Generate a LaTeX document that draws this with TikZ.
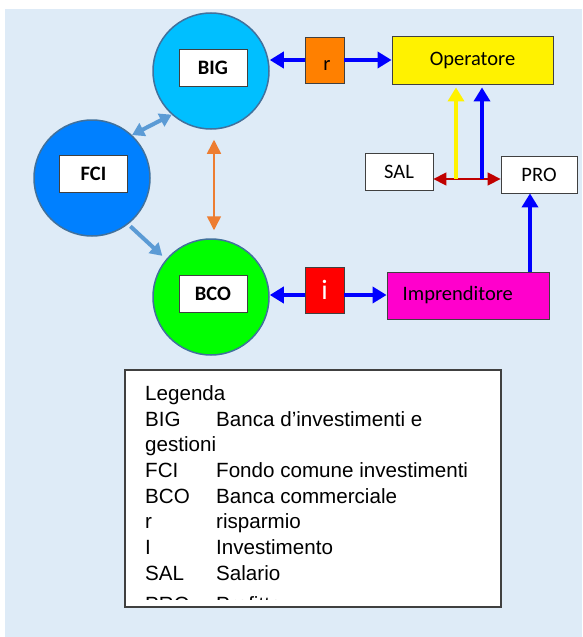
\documentclass[tikz,border=0pt]{standalone}
\usepackage{fontspec}
\setmainfont{Carlito}
\newfontfamily\legfont{Liberation Sans}
\usetikzlibrary{arrows.meta,positioning,calc}

\definecolor{bgblue}{HTML}{DEEBF7}
\definecolor{rimblue}{HTML}{41719C}
\definecolor{bigblue}{HTML}{00BFFF}
\definecolor{fciblue}{HTML}{0080FF}
\definecolor{bcogreen}{HTML}{00FF00}
\definecolor{savorange}{HTML}{FF8000}
\definecolor{impmagenta}{HTML}{FF00CC}
\definecolor{linkblue}{HTML}{5B9BD5}
\definecolor{linkorange}{HTML}{ED7D31}
\definecolor{salred}{HTML}{C00000}
\definecolor{edgegray}{HTML}{404040}

\begin{document}
\begin{tikzpicture}[x=1pt,y=-1pt,
   every node/.style={font=\fontsize{20.5}{24}\selectfont},
   bank/.style={circle,draw=rimblue,line width=1.5pt,minimum size=116pt,inner sep=0pt},
   tag/.style={draw=edgegray,fill=white,line width=0.8pt,minimum width=68pt,
               minimum height=37pt,inner sep=0pt,font=\fontsize{20.5}{24}\selectfont\bfseries},
   box/.style={draw=edgegray,line width=0.8pt,inner sep=0pt},
   flow/.style={-{Triangle[length=14pt,width=16pt]},line width=4pt,blue},
   fund/.style={line width=4pt,linkblue},
   legrow/.style={anchor=base west,inner sep=0pt,font=\legfont\fontsize{20.6}{25}\selectfont}
]
\useasboundingbox (0,0) rectangle (582,637);
\fill[bgblue] (5,9) rectangle (582,637);

% Banks and fund
\node[bank,fill=bigblue] (BIG) at (211,71) {};
\node[bank,fill=fciblue] (FCI) at (92,178) {};
\node[bank,fill=bcogreen] (BCO) at (211,297) {};
\node[tag] (BIGtag) at (213,67.5) {BIG};
\node[tag] (FCItag) at (93.5,173.5) {FCI};
\node[tag] (BCOtag) at (213,293.5) {BCO};

\draw[fund,{Triangle[length=12pt,width=14pt]}-{Triangle[length=12pt,width=14pt]}]
   (FCI.47) -- (BIG.228);
\draw[fund,-{Triangle[length=12pt,width=14pt]},shorten <=3pt,shorten >=5pt]
   (FCI.-52) -- (BCO.140);
\draw[linkorange,line width=1.5pt,
      {Triangle[length=14pt,width=14pt]}-{Triangle[length=14pt,width=14pt]}]
   ([xshift=3pt,yshift=-10pt]BIG.south) -- ([xshift=3pt,yshift=8pt]BCO.north);

% Savings and investment
\node[box,fill=savorange,minimum width=39pt,minimum height=46pt] (r) at (324.5,60)
   {\raisebox{-10.5pt}[0pt][0pt]{\makebox[0pt]{\hspace{5pt}r}}};
\node[box,fill=red,minimum width=39pt,minimum height=46pt,text=white,
      font=\fontsize{28}{30}\selectfont] (inv) at (324.5,290) {i};

\node[box,fill=yellow,minimum width=161pt,minimum height=48pt] (OP) at (472.5,60) {Operatore};
\node[box,fill=impmagenta,minimum height=47pt,inner xsep=15.7pt,
      text width=130.6pt,align=left] (IMP) at (468,295.5) {Imprenditore};
\node[box,fill=white,minimum width=68pt,minimum height=37pt] (SAL) at (399,171.5) {SAL};
\node[box,fill=white,minimum width=76pt,minimum height=37pt] (PRO) at (539,174.5) {PRO};

\draw[flow] (r.west) -- (r.west -| BIG.east);
\draw[flow] (r.east) -- (OP.west);
\draw[flow] ([yshift=-5pt]inv.west) -- ([yshift=-5pt]inv.west -| BCO.east);
\draw[flow] ([yshift=-5pt]inv.east) -- ([yshift=-5pt]inv.east -| IMP.west);
\draw[flow] ([xshift=62pt]IMP.north) -- ([xshift=62pt]IMP.north |- PRO.south);

% Wages and profits
\coordinate (wage) at (456,179);
\coordinate (gain) at (482,179);
\draw[salred,line width=1.5pt,
      {Triangle[length=13pt,width=13pt]}-{Triangle[length=13pt,width=13pt]}]
   (wage -| SAL.east) -- (wage -| PRO.west);
\draw[flow,yellow] (wage) -- ([yshift=-3pt]wage |- OP.south);
\draw[flow] (gain) -- ([yshift=-3pt]gain |- OP.south);

% Legend
\node[draw=edgegray,fill=white,line width=1.2pt,minimum width=376pt,minimum height=237pt,
      inner sep=0pt] (LEG) at (313,488.5) {};
\begin{scope}
\clip (126,371) rectangle (500,599);
\node[legrow] (legtitle) at (145,400.7) {Legenda};
\foreach \y/\ab/\de [count=\k] in {426.3/BIG/Banca d’investimenti e, 451.9/gestioni/{},
   477.5/FCI/Fondo comune investimenti, 503.1/BCO/Banca commerciale,
   528.7/r/risparmio, 554.3/I/Investimento, 580.3/SAL/Salario, 611.5/PRO/Profitto}{
  \node[legrow] (ab\k) at (145,\y) {\ab};
  \node[legrow] (de\k) at (216,\y) {\de};
}
\end{scope}
\end{tikzpicture}
\end{document}
